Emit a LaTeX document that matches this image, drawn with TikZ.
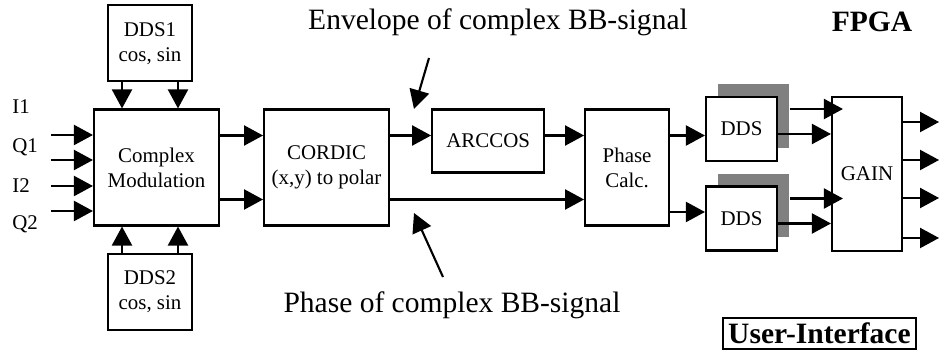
\documentclass[tikz,border=0pt]{standalone}
\usepackage{fontspec}
\setmainfont{Liberation Serif}
\usetikzlibrary{positioning, arrows.meta, shadows}

\begin{document}
\begin{tikzpicture}[
        x=0.02cm, y=-0.02cm,
        block/.style={rectangle, draw=black, line width=1.2pt, fill=white, align=center, inner sep=0pt, font=\fontsize{11.9}{14.2}\selectfont},
        ddsbox/.style={block, minimum width=1.42cm, minimum height=1.28cm, drop shadow={shadow xshift=0.24cm, shadow yshift=0.26cm, fill=black!50, opacity=1}},
        sig/.style={-{Triangle[length=0.38cm, width=0.4cm]}, line width=1.2pt},
        inlabel/.style={anchor=west, inner sep=0pt, font=\fontsize{11.9}{14.2}\selectfont},
        note/.style={font=\fontsize{16.8}{20}\selectfont},
        title/.style={font=\fontsize{16.8}{20}\selectfont\bfseries}
    ]
        \useasboundingbox (0,0) rectangle (939,357);

        % Modulator and carriers
        \node[block, minimum width=2.5cm, minimum height=2.32cm] (mod) at (156.5,167.5) {Complex\\Modulation};
        \node[block, minimum width=1.68cm, minimum height=1.52cm, above=0.52cm of mod, xshift=-0.13cm] (dds1) {DDS1\\cos, sin};
        \node[block, minimum width=1.68cm, minimum height=1.52cm, below=0.52cm of mod, xshift=-0.13cm] (dds2) {DDS2\\cos, sin};

        % Polar conversion
        \node[block, minimum width=2.5cm, minimum height=2.32cm, right=0.86cm of mod] (cordic) {CORDIC\\(x,y) to polar};
        \node[block, minimum width=2.24cm, minimum height=1.26cm, right=0.82cm of cordic.north east, anchor=north west] (arccos) {ARCCOS};
        \node[block, minimum width=1.68cm, minimum height=2.32cm, right=3.88cm of cordic] (phase) {Phase\\Calc.};

        % Output stage
        \node[ddsbox] (ddsA) at (741.5,129) {DDS};
        \node[ddsbox] (ddsB) at (741.5,218.5) {DDS};
        \node[block, minimum width=1.4cm, minimum height=3.08cm] (gain) at (867,174) {GAIN};

        % Inputs
        \node[inlabel] (lI1) at (12,107) {I1};
        \node[inlabel] (lQ1) at (12,147) {Q1};
        \node[inlabel] (lI2) at (12,186) {I2};
        \node[inlabel] (lQ2) at (12,224) {Q2};
        \foreach \dy in {0.65,0.15,-0.37,-0.87}
            \draw[sig] ([xshift=-0.84cm, yshift=\dy cm]mod.west) -- ([yshift=\dy cm]mod.west);

        % Carrier feeds
        \foreach \dx in {-0.56,0.56} {
            \draw[sig] ([xshift=\dx cm]dds1.south) -- ([xshift=\dx cm]dds1.south |- mod.north);
            \draw[sig] ([xshift=\dx cm]dds2.north) -- ([xshift=\dx cm]dds2.north |- mod.south);
        }

        % Signal path
        \foreach \dy in {0.64,-0.64}
            \draw[sig] ([yshift=\dy cm]mod.east) -- ([yshift=\dy cm]cordic.west);
        \draw[sig] ([yshift=0.64cm]cordic.east) -- ([yshift=0.64cm]cordic.east -| arccos.west);
        \draw[sig] ([yshift=0.64cm]cordic.east -| arccos.east) -- ([yshift=0.64cm]phase.west);
        \draw[sig] ([yshift=-0.64cm]cordic.east) -- ([yshift=-0.64cm]phase.west);
        \draw[sig] ([yshift=0.64cm]phase.east) -- ([yshift=0.64cm]phase.east -| ddsA.west);
        \draw[sig] ([yshift=-0.89cm]phase.east) -- ([yshift=-0.89cm]phase.east -| ddsB.west);

        % DDS to gain
        \foreach \dds in {ddsA,ddsB} {
            \draw[sig] ([shift={(0.24cm,0.4cm)}]\dds.east) -- ([shift={(0.24cm,0.4cm)}]\dds.east -| gain.west);
            \draw[sig] ([yshift=-0.1cm]\dds.east) -- ([yshift=-0.1cm]\dds.east -| gain.west);
        }
        \foreach \dy in {1.04,0.28,-0.48,-1.28}
            \draw[sig] ([yshift=\dy cm]gain.east) -- ++(0.72cm,0);

        % Annotations
        \node[note] (env) at (498,22) {Envelope of complex BB-signal};
        \node[note] (phs) at (452,305) {Phase of complex BB-signal};
        \coordinate (envtail) at (429,58);
        \coordinate (envtip) at (414,109);
        \coordinate (phstail) at (443,277);
        \coordinate (phstip) at (414,213);
        \draw[sig] (envtail) -- (envtip);
        \draw[sig] (phstail) -- (phstip);

        \node[title] (fpga) at (872,22) {FPGA};
        \node[title, draw, line width=1.2pt, inner sep=3pt, anchor=east] (ui) at (917,333.5) {User-Interface};
    \end{tikzpicture}
\end{document}
